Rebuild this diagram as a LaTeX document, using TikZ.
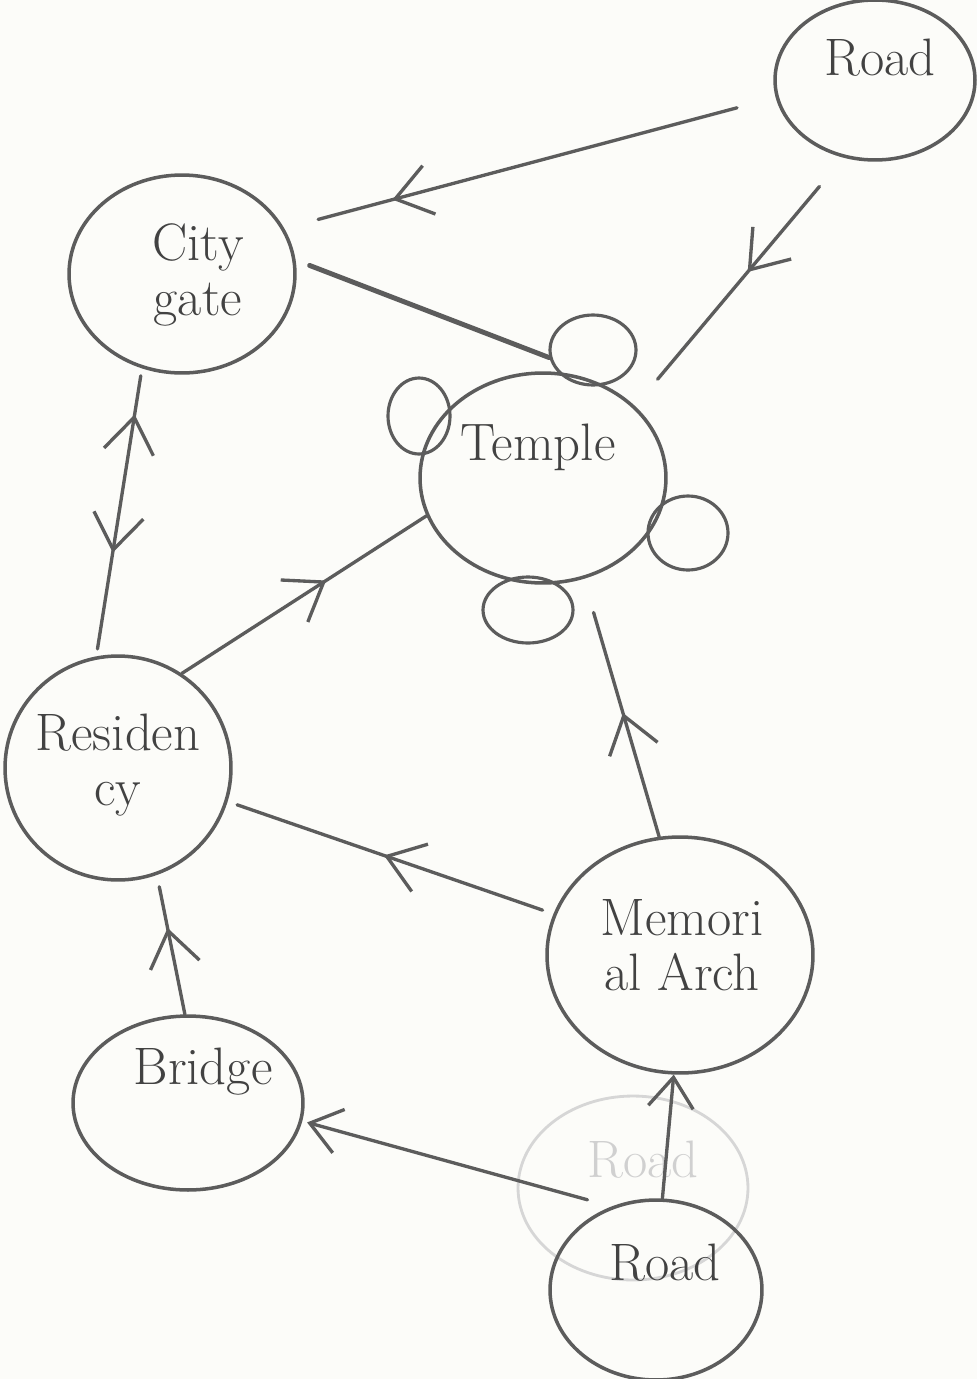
\documentclass[tikz,border=0pt]{standalone}
\usepackage{fontspec}
\usepackage{xcolor}
\usepackage{tikz}
\usetikzlibrary{arrows.meta,shapes.geometric,decorations.markings}

\definecolor{pencil}{RGB}{92,92,92}
\definecolor{lead}{RGB}{66,66,66}
\definecolor{paper}{RGB}{252,252,249}

\begin{document}
\begin{tikzpicture}[x=0.02cm, y=-0.02cm,
  place/.style={ellipse, draw=pencil, line width=2pt},
  bump/.style={ellipse, draw=pencil, line width=1.8pt},
  ghost/.style={ellipse, draw=pencil!25, line width=1.6pt},
  word/.style={text=lead, font=\fontsize{30}{31}\selectfont, align=center},
  link/.style={draw=pencil, color=pencil, line width=1.9pt, line cap=round},
  mid/.style={postaction={decorate, decoration={markings,
    mark=at position #1 with {\arrow{Straight Barb[length=7mm,width=10mm]}}}}},
  midback/.style={postaction={decorate, decoration={markings,
    mark=at position #1 with {\arrowreversed{Straight Barb[length=7mm,width=10mm]}}}}}]

  \fill[paper] (0,0) rectangle (977,1379);
  \useasboundingbox (0,0) rectangle (977,1379);

  \node[place, minimum width=4cm, minimum height=3.2cm] (roadtop) at (875,80) {};
  \node[word] (roadtopname) at (880,58) {Road};

  \node[place, minimum width=4.52cm, minimum height=3.96cm] (gate) at (182,274) {};
  \node[word] (gatename) at (198,275) {City\\gate};

  \node[place, minimum width=4.92cm, minimum height=4.2cm] (temple) at (543,478) {};
  \node[word] (templename) at (538,447) {Temple};
  \node[bump, minimum width=1.72cm, minimum height=1.4cm] (tn) at (593,350) {};
  \node[bump, minimum width=1.24cm, minimum height=1.52cm] (tw) at (419,416) {};
  \node[bump, minimum width=1.6cm, minimum height=1.48cm] (te) at (688,533) {};
  \node[bump, minimum width=1.8cm, minimum height=1.32cm] (ts) at (528,610) {};

  \node[place, minimum width=4.52cm, minimum height=4.48cm] (res) at (118,768) {};
  \node[word] (resname) at (118,765) {Residen\\cy};

  \node[place, minimum width=5.32cm, minimum height=4.72cm] (arch) at (680,955) {};
  \node[word] (archname) at (682,945) {Memori\\al Arch};

  \node[place, minimum width=4.6cm, minimum height=3.48cm] (bridge) at (188,1103) {};
  \node[word] (bridgename) at (203,1072) {Bridge};

  \node[ghost, minimum width=4.6cm, minimum height=3.68cm] (oldroad) at (633,1188) {};
  \node[word, text=lead!25] (oldroadname) at (643,1160) {Road};

  \node[place, minimum width=4.24cm, minimum height=3.6cm] (roadbot) at (656,1290) {};
  \node[word] (roadbotname) at (665,1263) {Road};

  \draw[link, mid=0.78, shorten <=8mm, shorten >=7mm] (roadtop.190) -- (gate.24);
  \draw[link, mid=0.46, shorten <=7.5mm, shorten >=7mm] (roadtop.248) -- (temple.38);
  \draw[link, line width=2.8pt, shorten <=3mm] (gate.7) -- (tn.190);
  \draw[link, mid=0.84, midback=0.36, shorten <=1.5mm, shorten >=1.5mm] (res.101) -- (gate.247);
  \draw[link, mid=0.59] (res.56) -- (temple.198);
  \draw[link, mid=0.48, shorten >=7mm] (arch.100) -- (temple.292);
  \draw[link, mid=0.52, shorten <=2.3mm, shorten >=2mm] (arch.162) -- (res.343);
  \draw[link, mid=0.62, shorten >=2.4mm] (bridge.92) -- (res.290);
  \draw[link, -{Straight Barb[length=6mm,width=9mm]}, shorten <=5mm, shorten >=1mm] (roadbot.118) -- (bridge.351);
  \draw[link, -{Straight Barb[length=6mm,width=9mm]}] (roadbot.86) -- (arch.267);
\end{tikzpicture}
\end{document}
